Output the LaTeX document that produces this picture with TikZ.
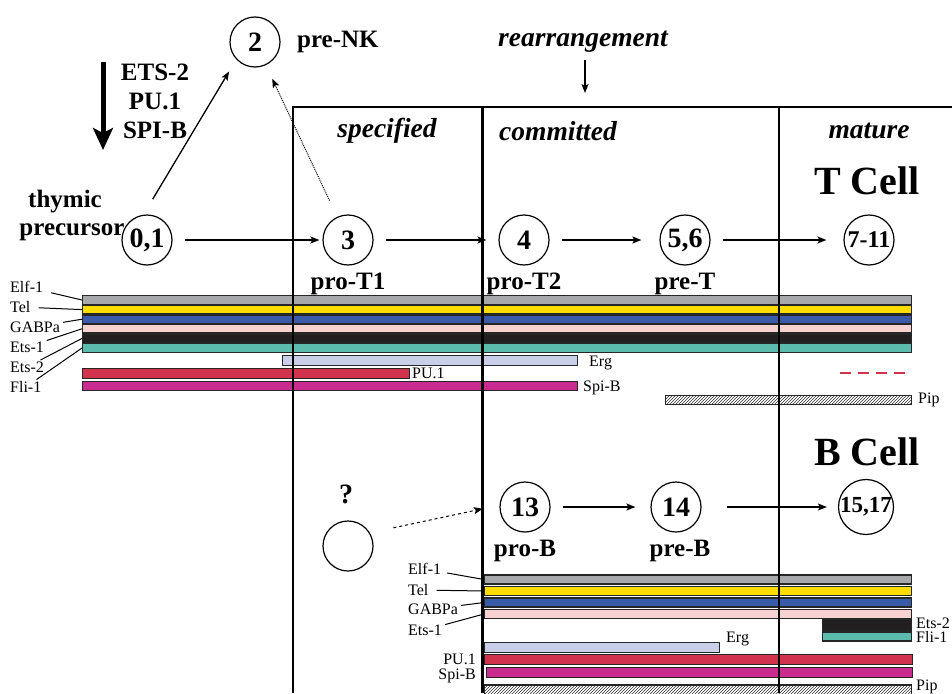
\documentclass[tikz,border=0pt]{standalone}
\usepackage{fontspec}
\setmainfont{Liberation Serif}
\usepackage{tikz}
\usetikzlibrary{arrows.meta,positioning,patterns}
\usepackage{xcolor}

\definecolor{elfgray}{HTML}{A6A8AB}
\definecolor{telyellow}{HTML}{FFDD00}
\definecolor{gabpblue}{HTML}{3A5BA9}
\definecolor{etspink}{HTML}{F7D2D0}
\definecolor{etsblack}{HTML}{231F20}
\definecolor{fliteal}{HTML}{5BBBAD}
\definecolor{erglilac}{HTML}{C9CFE8}
\definecolor{pured}{HTML}{D0334B}
\definecolor{spimagenta}{HTML}{C92C8E}

\begin{document}
\begin{tikzpicture}[x=1pt,y=1pt,node distance=44pt,
  >={Stealth[length=9pt,width=7pt,inset=2pt]},
  cell/.style={circle,draw,line width=1.2pt,minimum size=50pt,inner sep=0pt,
    font=\fontsize{28}{28}\selectfont\bfseries},
  stage/.style={font=\fontsize{25}{25}\selectfont\bfseries},
  phase/.style={font=\fontsize{27.5}{27.5}\selectfont\bfseries\itshape},
  lineage/.style={font=\fontsize{40}{40}\selectfont\bfseries},
  fac/.style={font=\fontsize{16}{16}\selectfont,inner sep=0pt},
  bar/.style={draw=black!85,line width=1.2pt,inner sep=0pt,anchor=west},
  lead/.style={line width=1pt,shorten <=3pt},
  flow/.style={->,line width=1.3pt,shorten <=12pt}]
\useasboundingbox (0,0) rectangle (952,-693);

% cells
\node (C01) [cell] at (147,-240) {0,1};
\node (C2) [cell] at (255,-42) {2};
\node (C3) [cell] at (348,-240) {3};
\node (C4) [cell] at (524,-240) {4};
\node (C56) [cell] at (685,-240) {5,6};
\node (C711) [cell,font=\fontsize{24}{24}\selectfont\bfseries] at (869,-240) {7-11};
\node (C13) [cell] at (525,-507) {13};
\node (C14) [cell] at (676,-507) {14};
\node (C1517) [cell,font=\fontsize{23}{23}\selectfont\bfseries] at (866,-507) {15,17};
\node (CQ) [cell] at (348,-546) {};

% stage names
\node (NK) [stage,right=13pt of C2] {pre-NK};
\node (PT1) [stage,below of=C3] {pro-T1};
\node (PT2) [stage,below of=C4] {pro-T2};
\node (PRT) [stage,below of=C56] {pre-T};
\node (PB) [stage,below of=C13] {pro-B};
\node (PRB) [stage,below of=C14,xshift=4pt] {pre-B};
\node (Q) [stage,font=\fontsize{28}{28}\selectfont\bfseries] at (346,-494) {?};
\node (Thy) [stage] at (65,-202) {thymic};
\node (Pre) [stage] at (72,-232) {precursor};
\node (F1) [stage] at (155,-72) {ETS-2};
\node (F2) [stage] at (155,-101) {PU.1};
\node (F3) [stage] at (155,-130) {SPI-B};

% phases
\node (Rearr) [phase] at (583,-42) {rearrangement};
\node (Spec) [phase] at (387,-131) {specified};
\node (Comm) [phase] at (558,-131) {committed};
\node (Mat) [phase] at (869,-131) {mature};
\node (TC) [lineage] at (867,-181) {T Cell};
\node (BC) [lineage] at (867,-452) {B Cell};

% T cell bars
\node (TElf) [bar,fill=elfgray,minimum width=829pt,minimum height=8.4pt] at (82,-300) {};
\node (TTel) [bar,fill=telyellow,minimum width=829pt,minimum height=8.4pt] at (82,-309.6) {};
\node (TGabp) [bar,fill=gabpblue,minimum width=829pt,minimum height=8.4pt] at (82,-319.2) {};
\node (TEts1) [bar,fill=etspink,minimum width=829pt,minimum height=8.4pt] at (82,-328.8) {};
\node (TEts2) [bar,fill=etsblack,minimum width=829pt,minimum height=8.4pt] at (82,-338.4) {};
\node (TFli) [bar,fill=fliteal,minimum width=829pt,minimum height=8.4pt] at (82,-348) {};
\node (TErg) [bar,fill=erglilac,minimum width=295pt,minimum height=10pt] at (282,-360.5) {};
\node (TPu) [bar,fill=pured,minimum width=327pt,minimum height=10pt] at (82,-373.5) {};
\node (TSpi) [bar,fill=spimagenta,minimum width=495pt,minimum height=9.5pt] at (82,-386) {};
\node (TPip) [bar,pattern=north east lines,pattern color=black!80,minimum width=246pt,minimum height=9.5pt] at (665,-400) {};
\draw[pured,line width=2.6pt,dash pattern=on 11pt off 7pt] (840,-373) -- (910,-373);

\node (LElf) [fac,anchor=west] at (10,-287) {Elf-1};
\node (LTel) [fac,anchor=west] at (10,-307) {Tel};
\node (LGabp) [fac,anchor=west] at (10,-327) {GABPa};
\node (LEts1) [fac,anchor=west] at (10,-347) {Ets-1};
\node (LEts2) [fac,anchor=west] at (10,-367) {Ets-2};
\node (LFli) [fac,anchor=west] at (10,-387) {Fli-1};
\node (RErg) [fac,anchor=west] at (589,-363) {Erg};
\node (RPu) [fac,anchor=west] at (412,-373) {PU.1};
\node (RSpi) [fac,anchor=west] at (583,-388) {Spi-B};
\node (RPip) [fac,anchor=west] at (918,-400) {Pip};

\draw[lead,shorten <=8pt] (LElf) -- (TElf.west);
\draw[lead,shorten <=8pt] (LTel) -- (TTel.west);
\draw[lead] (LGabp) -- (TGabp.west);
\draw[lead] (LEts1) -- (TEts1.west);
\draw[lead] (LEts2) -- (TEts2.west);
\draw[lead] (LFli) -- (TFli.west);

% B cell bars
\node (BElf) [bar,fill=elfgray,minimum width=427pt,minimum height=9pt] at (484,-579.5) {};
\node (BTel) [bar,fill=telyellow,minimum width=427pt,minimum height=9pt] at (484,-591) {};
\node (BGabp) [bar,fill=gabpblue,minimum width=427pt,minimum height=9pt] at (484,-602.5) {};
\node (BEts1) [bar,fill=etspink,minimum width=427pt,minimum height=9pt] at (484,-614) {};
\node (BEts2) [bar,fill=etsblack,minimum width=89pt,minimum height=11pt] at (822,-625) {};
\node (BFli) [bar,fill=fliteal,minimum width=89pt,minimum height=9pt] at (822,-636.5) {};
\node (BErg) [bar,fill=erglilac,minimum width=235pt,minimum height=10pt] at (484,-647.5) {};
\node (BPu) [bar,fill=pured,minimum width=428pt,minimum height=10pt] at (484,-659.5) {};
\node (BSpi) [bar,fill=spimagenta,minimum width=426pt,minimum height=10pt] at (486,-672.5) {};
\node (BPip) [bar,pattern=north east lines,pattern color=black!80,minimum width=427pt,minimum height=10pt] at (484,-690) {};

\node (MElf) [fac,anchor=west] at (408,-569) {Elf-1};
\node (MTel) [fac,anchor=west] at (408,-590) {Tel};
\node (MGabp) [fac,anchor=west] at (408,-609) {GABPa};
\node (MEts1) [fac,anchor=west] at (408,-630) {Ets-1};
\node (SErg) [fac,anchor=west] at (726,-639) {Erg};
\node (SPu) [fac,anchor=east] at (476,-659) {PU.1};
\node (SSpi) [fac,anchor=east] at (476,-676) {Spi-B};
\node (SEts2) [fac,anchor=west] at (916,-623) {Ets-2};
\node (SFli) [fac,anchor=west] at (916,-637) {Fli-1};
\node (SPip) [fac,anchor=west] at (916,-687) {Pip};

\draw[lead,shorten <=6pt] (MElf) -- (BElf.west);
\draw[lead,shorten <=8pt] (MTel) -- (BTel.west);
\draw[lead] (MGabp) -- (BGabp.west);
\draw[lead] (MEts1) -- (BEts1.west);

% stage frame
\draw[line width=1.4pt] (293,-693) -- (293,-107) -- (952,-107);
\draw[line width=3pt] (482,-107) -- (482,-693);
\draw[line width=1.4pt] (779,-107) -- (779,-693);

% transitions
\draw[flow,shorten >=3pt] (C01) -- (C3);
\draw[flow,shorten >=12pt] (C3) -- (C4);
\draw[flow,shorten >=18pt] (C4) -- (C56);
\draw[flow,shorten >=17pt] (C56) -- (C711);
\draw[flow,shorten >=15pt] (C13) -- (C14);
\draw[flow,shorten <=25pt,shorten >=11pt] (C14) -- (C1517);
\draw[->,line width=1.3pt,shorten <=18pt,shorten >=14pt] (C01.98) -- (C2.223);
\draw[->,line width=1pt,densely dotted,shorten <=18pt,shorten >=15pt] (C3) -- (C2);
\draw[->,line width=1pt,dashed,shorten <=24pt,shorten >=17pt] (CQ.31) -- (C13.176);

\coordinate (RTip) at (585,-93);
\draw[->,line width=1.3pt,shorten <=4pt] (Rearr.south -| RTip) -- (RTip);
\coordinate (DTop) at (103,-62);
\coordinate (DTip) at (103,-150);
\draw[line width=5pt,-{Stealth[length=22pt,width=20pt,inset=5pt]}] (DTop) -- (DTip);
\end{tikzpicture}
\end{document}
